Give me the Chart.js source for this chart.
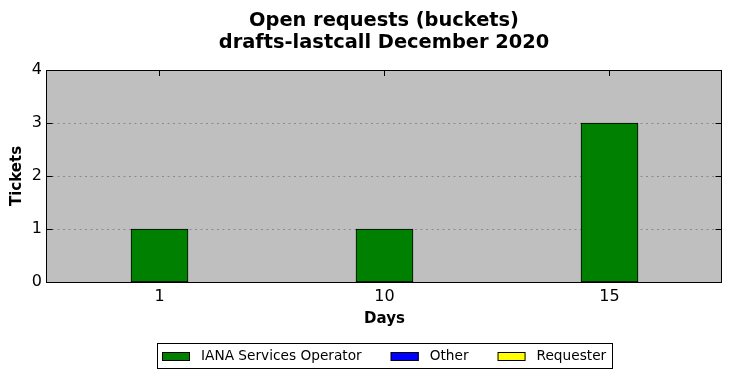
<!DOCTYPE html>
<html><head><meta charset="utf-8">
<script src="https://cdn.jsdelivr.net/npm/chart.js@4"></script>
<style>html,body{margin:0;padding:0;background:#fff}#wrap{width:731px;height:378px}</style>
</head><body><div id="wrap"><canvas id="c" width="731" height="378"></canvas></div>
<script>
const titleLines = ['Open requests (buckets)', 'drafts-lastcall December 2020'];
const categories = ['1', '10', '15'];
const seriesNames = ['IANA Services Operator', 'Other', 'Requester'];
const seriesColors = ['#008000', '#0000ff', '#ffff00'];
const ianaValues = [1, 1, 3];
const otherValues = [0, 0, 0];
const requesterValues = [0, 0, 0];
const yTicks = [0, 1, 2, 3, 4];
const xTitle = 'Days';
const yTitle = 'Tickets';

Chart.defaults.font.family = "'DejaVu Sans', sans-serif";
Chart.defaults.color = '#000';

const FONT = "'DejaVu Sans', sans-serif";

const decor = {
  id: 'decor',
  beforeDraw(chart) {
    const {ctx, chartArea: a} = chart;
    ctx.save();
    ctx.fillStyle = '#bfbfbf';
    ctx.fillRect(a.left - 1, a.top, a.right - a.left, a.bottom - a.top);
    ctx.restore();
  },
  beforeDatasetsDraw(chart) {
    const {ctx, chartArea: a, scales} = chart;
    const y = scales.y, x = scales.x;
    const L = a.left - 0.5, R = a.right - 0.5;
    ctx.save();
    ctx.strokeStyle = '#8a8a8a';
    ctx.lineWidth = 1;
    ctx.setLineDash([2, 3.5]);
    yTicks.forEach(v => {
      const py = Math.round(y.getPixelForValue(v)) + 0.5;
      ctx.beginPath(); ctx.moveTo(L, py); ctx.lineTo(R, py); ctx.stroke();
    });
    ctx.setLineDash([]);
    ctx.strokeStyle = '#000';
    const tl = 6;
    yTicks.forEach(v => {
      const py = Math.round(y.getPixelForValue(v)) + 0.5;
      ctx.beginPath(); ctx.moveTo(L, py); ctx.lineTo(L + tl, py); ctx.stroke();
      ctx.beginPath(); ctx.moveTo(R, py); ctx.lineTo(R - tl, py); ctx.stroke();
    });
    categories.forEach((c, i) => {
      const px = Math.round(x.getPixelForValue(i)) - 0.5;
      ctx.beginPath(); ctx.moveTo(px, a.top); ctx.lineTo(px, a.top + tl); ctx.stroke();
      ctx.beginPath(); ctx.moveTo(px, a.bottom); ctx.lineTo(px, a.bottom - tl); ctx.stroke();
    });
    ctx.restore();
  },
  afterDatasetsDraw(chart) {
    const {ctx, chartArea: a} = chart;
    ctx.save();
    ctx.strokeStyle = '#000';
    ctx.lineWidth = 1;
    ctx.strokeRect(a.left - 0.5, a.top + 0.5, a.right - a.left, a.bottom - a.top);
    ctx.restore();
  },
  afterDraw(chart) {
    const {ctx, chartArea: a} = chart;
    const cx = (a.left + a.right) / 2 - 0.5;
    ctx.save();
    ctx.fillStyle = '#000';
    ctx.font = 'bold 19.4px ' + FONT;
    ctx.textAlign = 'center';
    ctx.textBaseline = 'alphabetic';
    ctx.fillText(titleLines[0], cx, 26);
    ctx.fillText(titleLines[1], cx, 48);
    ctx.font = '13.7px ' + FONT;
    const padL = 5, padR = 6, sw = 28, sh = 9, gap = 11, spacing = 29;
    const widths = seriesNames.map(n => ctx.measureText(n).width);
    let total = padL + padR;
    widths.forEach((w, i) => { total += sw + gap + w + (i ? spacing : 0); });
    total = Math.round(total);
    const boxTop = 343, boxH = 25;
    const boxLeft = Math.round(cx - total / 2);
    ctx.strokeStyle = '#000';
    ctx.lineWidth = 1;
    ctx.strokeRect(boxLeft + 0.5, boxTop + 0.5, total, boxH);
    const midY = boxTop + boxH / 2 + 0.5;
    let xx = boxLeft + padL;
    ctx.textAlign = 'left';
    ctx.textBaseline = 'middle';
    chart.data.datasets.forEach((ds, i) => {
      ctx.fillStyle = ds.backgroundColor;
      const sy = Math.round(midY - sh / 2);
      ctx.fillRect(xx, sy, sw, sh);
      ctx.strokeStyle = '#000';
      ctx.strokeRect(xx + 0.5, sy + 0.5, sw - 1, sh - 1);
      xx += sw + gap;
      ctx.fillStyle = '#000';
      ctx.fillText(ds.label, xx, midY);
      xx += widths[i] + spacing;
    });
    ctx.restore();
  }
};

const dsBase = {borderColor: '#000', borderWidth: 1, borderSkipped: false, barThickness: 57};

new Chart(document.getElementById('c'), {
  type: 'bar',
  data: {
    labels: categories,
    datasets: [
      Object.assign({label: seriesNames[0], data: ianaValues, backgroundColor: seriesColors[0]}, dsBase),
      Object.assign({label: seriesNames[1], data: otherValues, backgroundColor: seriesColors[1]}, dsBase),
      Object.assign({label: seriesNames[2], data: requesterValues, backgroundColor: seriesColors[2]}, dsBase)
    ]
  },
  options: {
    responsive: false,
    animation: false,
    devicePixelRatio: 1,
    layout: {padding: {left: 0, right: 9, top: 70, bottom: 49.6}},
    plugins: {legend: {display: false}, title: {display: false}, tooltip: {enabled: false}},
    scales: {
      x: {
        stacked: true,
        offset: true,
        grid: {display: false, drawTicks: false},
        border: {display: false},
        ticks: {font: {size: 16}, color: '#000', padding: 5, maxRotation: 0},
        title: {display: true, text: xTitle, font: {size: 15, weight: 'bold'}, color: '#000', padding: 0},
        afterFit(s) { s.height = 46.4; }
      },
      y: {
        stacked: true,
        min: 0, max: 4,
        afterBuildTicks(s) { s.ticks = yTicks.map(v => ({value: v})); },
        grid: {display: false, drawTicks: false},
        border: {display: false},
        ticks: {font: {size: 16}, color: '#000', padding: 5},
        title: {display: true, text: yTitle, font: {size: 15, weight: 'bold'}, color: '#000', padding: {top: 8.5, bottom: 0}},
        afterFit(s) { s.width = 47; }
      }
    }
  },
  plugins: [decor]
});
</script></body></html>
